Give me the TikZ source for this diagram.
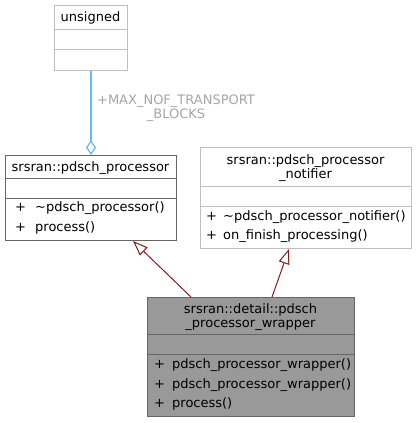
\documentclass[tikz,border=0pt]{standalone}
\usepackage{fontspec}
\setmainfont{DejaVu Sans}
\usetikzlibrary{arrows.meta}
\definecolor{edgered}{HTML}{8B1A1A}
\definecolor{aggblue}{HTML}{63B8FF}
\definecolor{lightborder}{HTML}{BFBFBF}
\definecolor{darkborder}{HTML}{666666}
\definecolor{wrapfill}{HTML}{999999}
\definecolor{labelgray}{HTML}{A6A6A6}
\begin{document}
\begin{tikzpicture}[x=1pt,y=-1pt,
  font=\fontsize{13}{14}\selectfont,
  classbox/.style={draw=#1, line width=1pt, rectangle, inner sep=0pt, anchor=north west},
  txt/.style={anchor=base, inner sep=0pt},
  mtxt/.style={anchor=base west, inner sep=0pt},
  inherit/.style={color=edgered, line width=1pt, -{Triangle[open, length=15pt, width=11pt]}},
  aggr/.style={color=aggblue, line width=1.2pt, {Diamond[open, length=15pt, width=10pt]}-},
  lbl/.style={text=labelgray, align=center, inner sep=0pt}
]
\useasboundingbox (0,0) rectangle (416,423);
\fill[white] (0,0) rectangle (416,423);

% unsigned
\node[classbox=lightborder, fill=white, minimum width=73pt, minimum height=65pt] (unsigned) at (54,5) {};
\draw[lightborder, line width=1pt] (54,29) -- (127,29) (54,49) -- (127,49);
\node[txt] (unsignedT) at (90.5,21) {unsigned};

% pdsch_processor
\node[classbox=darkborder, fill=white, minimum width=171pt, minimum height=85pt] (proc) at (5,155) {};
\draw[darkborder, line width=1pt] (5,178) -- (176,178) (5,198) -- (176,198);
\node[txt] (procT) at (90.5,171) {srsran::pdsch\_processor};
\node[mtxt] (procP1) at (15,211) {+};
\node[mtxt] (procM1) at (35,211) {\textasciitilde pdsch\_processor()};
\node[mtxt] (procP2) at (15,231) {+};
\node[mtxt] (procM2) at (35,231) {process()};

% notifier
\node[classbox=lightborder, fill=white, minimum width=211pt, minimum height=101pt] (notif) at (200,147) {};
\draw[lightborder, line width=1pt] (200,186) -- (411,186) (200,206) -- (411,206);
\node[txt] (notifT1) at (305.5,164) {srsran::pdsch\_processor};
\node[txt] (notifT2) at (305.5,178) {\_notifier};
\node[mtxt] (notifP1) at (206,220) {+};
\node[mtxt] (notifM1) at (223,220) {\textasciitilde pdsch\_processor\_notifier()};
\node[mtxt] (notifP2) at (206,239) {+};
\node[mtxt] (notifM2) at (223,239) {on\_finish\_processing()};

% wrapper
\node[classbox=darkborder, fill=wrapfill, minimum width=207pt, minimum height=119pt] (wrap) at (147,297) {};
\draw[darkborder, line width=1pt] (147,334) -- (354,334) (147,354) -- (354,354);
\node[txt] (wrapT1) at (250.5,313) {srsran::detail::pdsch};
\node[txt] (wrapT2) at (250.5,327) {\_processor\_wrapper};
\node[mtxt] (wrapP1) at (154,368) {+};
\node[mtxt] (wrapM1) at (172,368) {pdsch\_processor\_wrapper()};
\node[mtxt] (wrapP2) at (154,388) {+};
\node[mtxt] (wrapM2) at (172,388) {pdsch\_processor\_wrapper()};
\node[mtxt] (wrapP3) at (154,407) {+};
\node[mtxt] (wrapM3) at (172,407) {process()};

% connectors
\draw[aggr] (proc.north) -- (unsigned.south);
\node[lbl] (aggrL) at (176,108) {+MAX\_NOF\_TRANSPORT\\\_BLOCKS};
\draw[inherit] ([xshift=44pt]wrap.north west) -- ([xshift=128pt]proc.south west);
\draw[inherit] ([xshift=125pt]wrap.north west) -- ([xshift=89pt]notif.south west);
\end{tikzpicture}
\end{document}
